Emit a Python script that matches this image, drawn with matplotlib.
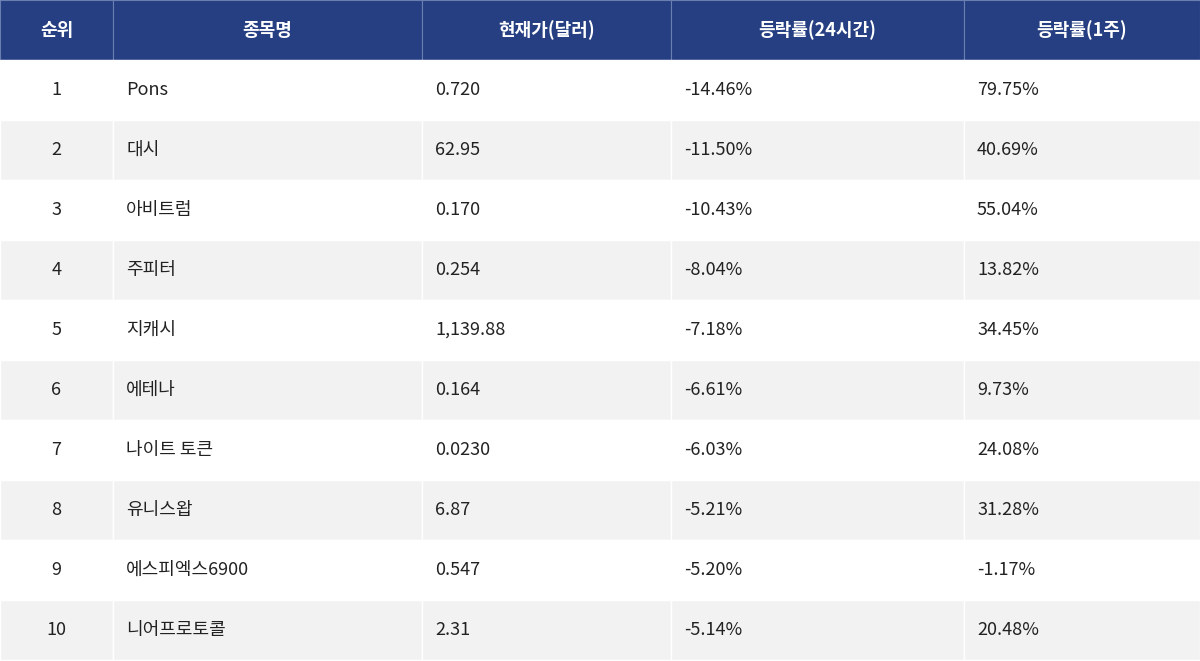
import matplotlib
matplotlib.use('Agg')
import matplotlib.pyplot as plt
import matplotlib.patches as mpatches

HEADERS = ['순위', '종목명', '현재가(달러)', '등락률(24시간)', '등락률(1주)']
RANKS = ['1', '2', '3', '4', '5', '6', '7', '8', '9', '10']
NAMES = ['Pons', '대시', '아비트럼', '주피터', '지캐시', '에테나', '나이트 토큰', '유니스왑', '에스피엑스6900', '니어프로토콜']
PRICES = ['0.720', '62.95', '0.170', '0.254', '1,139.88', '0.164', '0.0230', '6.87', '0.547', '2.31']
CHG_24H = ['-14.46%', '-11.50%', '-10.43%', '-8.04%', '-7.18%', '-6.61%', '-6.03%', '-5.21%', '-5.20%', '-5.14%']
CHG_1W = ['79.75%', '40.69%', '55.04%', '13.82%', '34.45%', '9.73%', '24.08%', '31.28%', '-1.17%', '20.48%']

HDR_BG = '#253f82'
ROW_EVN = '#f2f2f2'
FG = '#222222'
FONT = ['Noto Sans CJK KR', 'DejaVu Sans']

W, H = 1200, 661
col_x = [0, 113, 422, 671, 964, 1200]
HDR_H = 60
ROW_H = 60

fig = plt.figure(figsize=(W / 100, H / 100), dpi=100, facecolor='white')
ax = fig.add_axes([0, 0, 1, 1])
ax.set_xlim(0, W)
ax.set_ylim(H, 0)
ax.axis('off')

for i, label in enumerate(HEADERS):
    x0, x1 = col_x[i], col_x[i + 1]
    ax.add_patch(mpatches.Rectangle((x0, 0), x1 - x0, HDR_H, facecolor=HDR_BG,
                                    edgecolor='#6a7fb0', linewidth=0.8))
    ax.text((x0 + x1) / 2, HDR_H / 2, label, ha='center', va='center',
            color='white', fontsize=13, fontweight='bold', family=FONT)

cols = list(zip(RANKS, NAMES, PRICES, CHG_24H, CHG_1W))
for r, row in enumerate(cols):
    y = HDR_H + r * ROW_H
    bg = 'white' if r % 2 == 0 else ROW_EVN
    for i, txt in enumerate(row):
        x0, x1 = col_x[i], col_x[i + 1]
        ax.add_patch(mpatches.Rectangle((x0, y), x1 - x0, ROW_H, facecolor=bg,
                                        edgecolor='white', linewidth=1))
        if i == 0:
            ax.text((x0 + x1) / 2, y + ROW_H / 2, txt, ha='center', va='center',
                    color=FG, fontsize=13, family=FONT)
        else:
            ax.text(x0 + 13, y + ROW_H / 2, txt, ha='left', va='center',
                    color=FG, fontsize=13, family=FONT)

fig.savefig('out.png', dpi=100, facecolor='white')
